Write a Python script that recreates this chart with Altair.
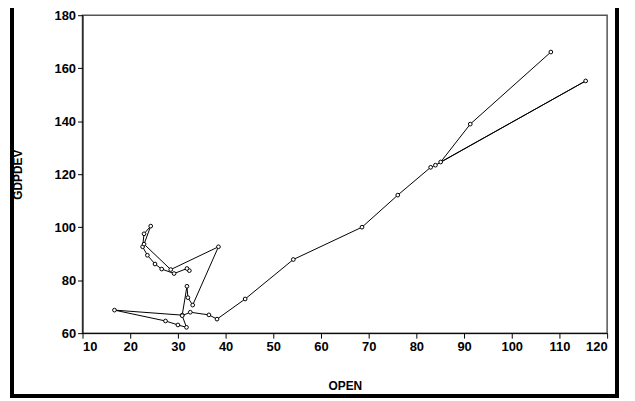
import altair as alt
import pandas as pd

open_vals = [32.4, 31.9, 29.2, 26.6, 25.2, 23.6, 22.6, 22.9, 24.3, 22.9, 28.5, 38.5,
             33.1, 32.1, 31.9, 30.9, 16.7, 27.4, 30.0, 31.8, 30.9, 32.6, 36.5, 38.2,
             44.1, 54.2, 68.6, 76.1, 83.0, 84.0, 115.5, 85.1, 91.3, 108.2]
gdpdev_vals = [83.6, 84.4, 82.5, 84.2, 86.1, 89.4, 92.6, 97.5, 100.4, 93.6, 84.0, 92.6,
               70.6, 73.4, 77.7, 66.8, 68.7, 64.6, 63.1, 62.2, 66.6, 67.9, 66.9, 65.3,
               72.9, 87.8, 100.0, 112.1, 122.6, 123.4, 155.2, 124.6, 138.9, 166.1]
x_ticks = [10, 20, 30, 40, 50, 60, 70, 80, 90, 100, 110, 120]
y_ticks = [60, 80, 100, 120, 140, 160, 180]

df = pd.DataFrame({"OPEN": open_vals, "GDPDEV": gdpdev_vals,
                   "idx": list(range(len(open_vals)))})

FONT = "Liberation Sans"

lines = alt.Chart(df).mark_line(
    color="black", strokeWidth=1,
    point=alt.OverlayMarkDef(filled=False, fill="white", stroke="black",
                             strokeWidth=1, size=14, opacity=1)
).encode(
    x=alt.X("OPEN:Q", scale=alt.Scale(domain=[10, 120], nice=False, zero=False),
            axis=alt.Axis(values=x_ticks, title="OPEN", titlePadding=28)),
    y=alt.Y("GDPDEV:Q", scale=alt.Scale(domain=[60, 180], nice=False, zero=False),
            axis=alt.Axis(values=y_ticks, title="GDPDEV", titlePadding=30)),
    order="idx:Q",
)

frame = alt.Chart(df).mark_rect(
    fill=None, stroke="black", strokeWidth=3, clip=False
).encode(
    x=alt.value(-71), x2=alt.value(538), y=alt.value(-20), y2=alt.value(383)
)

chart = alt.layer(frame, lines).properties(
    width=528, height=320,
    autosize=alt.AutoSizeParams(type="none"),
    padding={"left": 75, "top": 6, "right": 20, "bottom": 66},
).configure_view(
    stroke="#555555", strokeWidth=1.5
).configure_axis(
    grid=False, domainColor="black", domainWidth=1, tickColor="black",
    tickSize=5, labelFont=FONT, labelFontWeight="bold", labelFontSize=13,
    labelColor="black", titleFont=FONT, titleFontWeight="bold",
    titleFontSize=12, titleColor="black", labelPadding=2
)

chart.save("out.html", embed_options={"renderer": "svg", "actions": False})
